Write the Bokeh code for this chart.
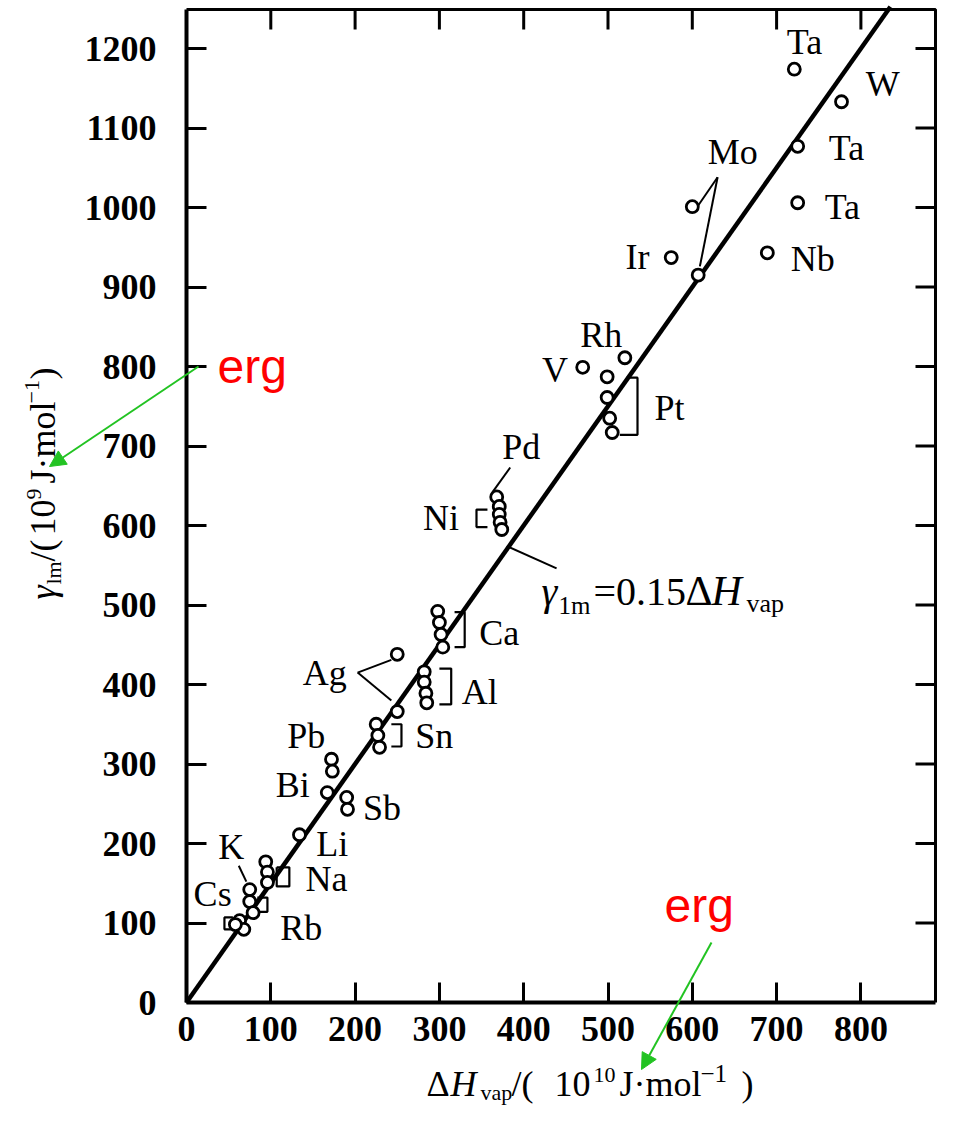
import math
from bokeh.plotting import figure
from bokeh.models import Label, Arrow, NormalHead, FixedTicker, Range1d
from bokeh.embed import file_html
from bokeh.resources import INLINE

# ---------------- data ----------------
metal = ["Ta", "Ta", "Ta", "W", "Nb", "Ir", "Mo", "Mo", "Rh", "V",
         "Pt", "Pt", "Pt", "Pt", "Pd", "Ni", "Ni", "Ni", "Ni",
         "Ca", "Ca", "Ca", "Ca", "Ag", "Sn", "Al", "Al", "Al", "Al",
         "Sn", "Sn", "Sn", "Pb", "Pb", "Bi", "Sb", "Sb", "Li",
         "Na", "Na", "Na", "K", "K", "Rb", "Cs", "Cs", "Cs"]
dh_vap = [721, 725, 725, 777, 689, 575, 600, 607, 520, 470,
          499, 499, 502, 505, 368, 371, 371, 372, 374,
          298, 300, 302, 304, 250, 250, 282, 282, 284, 285,
          225, 227, 229, 172, 173, 167, 190, 191, 134,
          94, 96, 96, 75, 75, 79, 63, 68, 58]
gamma_lm = [1174, 1077, 1006, 1133, 943, 937, 1001, 915, 811, 799,
            787, 761, 735, 717, 636, 624, 614, 604, 595,
            492, 478, 463, 447, 438, 366, 416, 403, 389, 377,
            350, 336, 321, 306, 291, 264, 258, 243, 211,
            177, 164, 151, 142, 127, 113, 103, 92, 98]

ratio = 0.15          # gamma_1m = 0.15 * dH_vap  (10^9 vs 10^10 units -> x1.5)
fit_dh = [0, 835]
fit_gamma = [d * ratio * 10 for d in fit_dh]

x_ticks = [0, 100, 200, 300, 400, 500, 600, 700, 800]
y_ticks = [0, 100, 200, 300, 400, 500, 600, 700, 800, 900, 1000, 1100, 1200]

# element labels: (text, x, y) in data units
element_labels = [("Ta", 733, 1208), ("W", 826, 1155), ("Mo", 648, 1070),
                  ("Ta", 783, 1075), ("Ta", 778, 1001), ("Ir", 535, 938),
                  ("Nb", 743, 935), ("Rh", 492, 840), ("V", 437, 796),
                  ("Pt", 573, 748), ("Pd", 397, 699), ("Ni", 302, 610),
                  ("Ca", 371, 465), ("Ag", 164, 415), ("Al", 348, 391),
                  ("Sn", 294, 335), ("Pb", 142, 335), ("Bi", 126, 274),
                  ("Sb", 232, 245), ("Li", 173, 199), ("K", 53, 195),
                  ("Na", 166, 155), ("Cs", 31, 136), ("Rb", 136, 94)]

# leader lines (data units)
leader_xs = [[630, 606], [630, 609], [363, 384], [203, 243], [203, 243], [62, 71], [380, 439]]
leader_ys = [[1038, 1001], [1038, 926], [642, 673], [415, 431], [415, 380], [172, 152], [574, 546]]

# brackets (data units)
bracket_xs = [[522, 535, 535, 514], [318, 330, 330, 318], [300, 314, 314, 300],
              [243, 255, 255, 243], [357, 344, 344, 357], [107, 122, 122, 107, 107],
              [84, 96, 96, 84], [55, 45, 45, 55, 55]]
bracket_ys = [[786, 786, 714, 714], [491, 491, 447, 447], [420, 420, 375, 375],
              [350, 350, 322, 322], [620, 620, 598, 598], [170, 170, 146, 146, 170],
              [132, 132, 114, 114], [107, 107, 92, 92, 107]]

# ---------------- layout ----------------
OFF = 1                        # picture px of the canvas origin
CW, CH = 938, 1109             # canvas = plotting frame (px)
X0_PX, Y0_PX = 187, 1003       # picture px of the data origin
SX, SY = 0.843, 0.795          # px per data unit
X_START = -(X0_PX - OFF) / SX
X_END = X_START + CW / SX
Y_START = -(OFF + CH - Y0_PX) / SY
Y_END = Y_START + CH / SY
X_RIGHT = (OFF + CW - 3 - X0_PX) / SX   # right frame edge
Y_TOP = (Y0_PX - 10) / SY               # top frame edge
TICK = 20                               # tick length, px


def dx(px):
    return (px - X0_PX) / SX


def dy(py):
    return (Y0_PX - py) / SY


SERIF = "Liberation Serif"
p = figure(frame_width=CW, frame_height=CH,
           x_range=Range1d(X_START, X_END), y_range=Range1d(Y_START, Y_END),
           output_backend="svg", toolbar_location=None,
           min_border_left=0, min_border_top=0, min_border_right=0, min_border_bottom=0)
p.grid.visible = False
p.outline_line_color = None
p.background_fill_color = "white"
p.border_fill_color = "white"

xa, ya = p.xaxis[0], p.yaxis[0]
xa.fixed_location = 0
ya.fixed_location = 0
xa.bounds = (0, X_RIGHT)
ya.bounds = (0, Y_TOP)
for ax, ticks in ((xa, x_ticks), (ya, y_ticks)):
    ax.ticker = FixedTicker(ticks=ticks)
    ax.axis_line_width = 4
    ax.major_tick_in = TICK
    ax.major_tick_out = 0
    ax.major_tick_line_width = 3
    ax.minor_tick_line_color = None
    ax.major_label_text_font = SERIF
    ax.major_label_text_font_size = "36px"
    ax.major_label_text_font_style = "bold"
    ax.major_label_text_color = "black"
xa.major_label_standoff = 14
ya.major_label_standoff = 30

# top and right frame with inward ticks
p.line([0, X_RIGHT, X_RIGHT], [Y_TOP, Y_TOP, 0], line_color="black", line_width=3)
p.segment(x0=x_ticks[1:], y0=[Y_TOP] * 8, x1=x_ticks[1:], y1=[Y_TOP - TICK / SY] * 8,
          line_color="black", line_width=3)
p.segment(x0=[X_RIGHT] * 12, y0=y_ticks[1:], x1=[X_RIGHT - TICK / SX] * 12, y1=y_ticks[1:],
          line_color="black", line_width=3)

# fitted line
p.line(fit_dh, fit_gamma, line_color="black", line_width=4.5)

# leaders and brackets
p.multi_line(leader_xs, leader_ys, line_color="black", line_width=2)
p.multi_line(bracket_xs, bracket_ys, line_color="black", line_width=2.2)

# data points
p.scatter(dh_vap, gamma_lm, marker="circle", size=12, fill_color="white",
          line_color="black", line_width=2.8)

# element labels
for t, x, y in element_labels:
    p.add_layout(Label(x=x, y=y, text=t, text_font=SERIF, text_font_size="36px",
                       text_align="center", text_baseline="middle", text_color="black"))

R = math.pi / 2


def piece(text, px, py, size, style="normal", angle=0.0, font=SERIF, color="black"):
    # (px, py): start of the text baseline in picture px; anchor placed at cap middle
    shift = 0.33 * size
    if angle:
        ax_, ay_ = px - shift, py
    else:
        ax_, ay_ = px, py - shift
    p.add_layout(Label(x=dx(ax_), y=dy(ay_), text=text, text_font=font,
                       text_font_size=f"{size}px", text_font_style=style,
                       text_align="left", text_baseline="middle",
                       angle=angle, text_color=color))


# x axis title
XB = 1096
piece("\u0394", 427, XB, 36)
piece("H", 451, XB, 36, "italic")
piece("vap", 481, XB + 4, 22)
piece("/(", 512, XB, 36)
piece("10", 555, XB, 36)
piece("10", 594, XB - 13, 22)
piece("J\u00b7mol", 620, XB, 36)
piece("\u22121", 701, XB - 14, 25)
piece(")", 742, XB, 36)

# y axis title (rotated)
piece("\u03b3", 55, 600, 36, "italic", R)
piece("lm", 61, 585, 22, "normal", R)
piece("/(", 55, 562, 36, "normal", R)
piece("10", 55, 536, 36, "normal", R)
piece("9", 42, 500, 22, "normal", R)
piece("J\u00b7mol", 55, 484, 36, "normal", R)
piece("\u22121", 40, 404, 22, "normal", R)
piece(")", 55, 380, 36, "normal", R)

# equation label
piece("\u03b3", 542, 605, 40, "italic")
piece("1m", 559, 614, 25)
piece("=0.15", 594, 605, 40)
piece("\u0394", 686, 605, 42)
piece("H", 712, 605, 42, "italic")
piece("vap", 747, 613, 26)

# red "erg" notes with green arrows
GREEN = "#22c322"
piece("erg", 218, 383, 48, font="Liberation Sans", color="red")
piece("erg", 665, 922, 48, font="Liberation Sans", color="red")
p.add_layout(Arrow(x_start=dx(199), y_start=dy(367), x_end=dx(50), y_end=dy(467),
                   line_color=GREEN, line_width=2,
                   end=NormalHead(size=16, fill_color=GREEN, line_color=GREEN)))
p.add_layout(Arrow(x_start=dx(712), y_start=dy(943), x_end=dx(642), y_end=dy(1070),
                   line_color=GREEN, line_width=2,
                   end=NormalHead(size=16, fill_color=GREEN, line_color=GREEN)))

open("out.html", "w").write(file_html(p, INLINE))
